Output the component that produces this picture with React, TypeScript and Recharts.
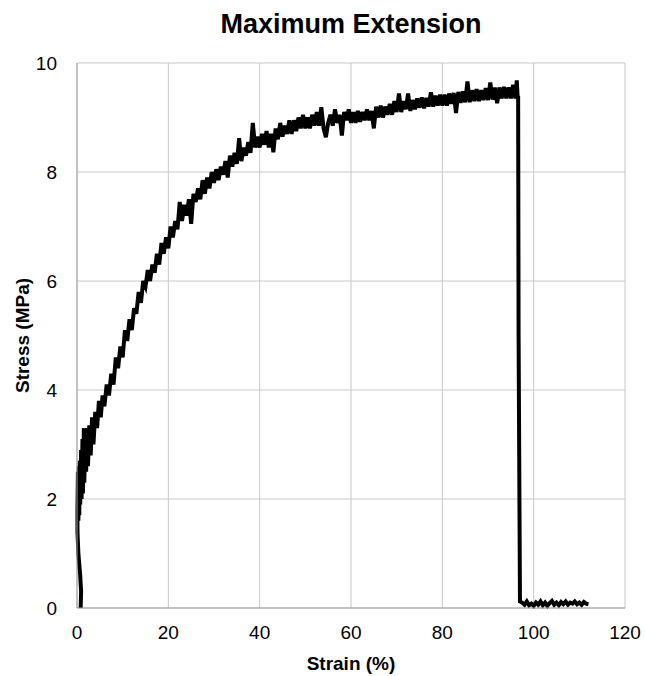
import React from 'react';
import { CartesianGrid, Line, LineChart, XAxis, YAxis, Label } from 'recharts';

const strain = [
  0.8, 0.9, 0.7, 0.3, 0.1, 0.1, 0.2, 0.3, 0.4, 0.5, 0.6, 0.7, 0.9, 1.0, 1.2, 1.3, 1.5, 1.6, 1.8, 2.0,
  2.2, 2.4, 2.7, 3.0, 3.3, 3.6, 4.0, 4.4, 4.8, 5.2, 5.6, 6.0, 6.5, 7.0, 7.5, 8.0, 8.5, 9.0, 9.5, 10.0,
  10.5, 11.0, 11.5, 12.0, 12.5, 13.0, 13.5, 14.0, 14.5, 15.0, 15.5, 16.0, 16.5, 17.0, 17.5, 18.0, 18.5, 19.0, 19.5, 20.0,
  20.5, 21.0, 21.5, 22.0, 22.5, 23.0, 23.5, 24.0, 24.5, 25.0, 25.5, 26.0, 26.5, 27.0, 27.5, 28.0, 28.5, 29.0, 29.5, 30.0,
  30.5, 31.0, 31.5, 32.0, 32.5, 33.0, 33.5, 34.0, 34.5, 35.0, 35.5, 36.0, 36.5, 37.0, 37.5, 38.0, 38.5, 39.0, 39.5, 40.0,
  40.5, 41.0, 41.5, 42.0, 42.5, 43.0, 43.5, 44.0, 44.5, 45.0, 45.5, 46.0, 46.5, 47.0, 47.5, 48.0, 48.5, 49.0, 49.5, 50.0,
  50.5, 51.0, 51.5, 52.0, 52.5, 53.0, 53.5, 54.0, 54.5, 55.0, 55.5, 56.0, 56.5, 57.0, 57.5, 58.0, 58.5, 59.0, 59.5, 60.0,
  60.5, 61.0, 61.5, 62.0, 62.5, 63.0, 63.5, 64.0, 64.5, 65.0, 65.5, 66.0, 66.5, 67.0, 67.5, 68.0, 68.5, 69.0, 69.5, 70.0,
  70.5, 71.0, 71.5, 72.0, 72.5, 73.0, 73.5, 74.0, 74.5, 75.0, 75.5, 76.0, 76.5, 77.0, 77.5, 78.0, 78.5, 79.0, 79.5, 80.0,
  80.5, 81.0, 81.5, 82.0, 82.5, 83.0, 83.5, 84.0, 84.5, 85.0, 85.5, 86.0, 86.5, 87.0, 87.5, 88.0, 88.5, 89.0, 89.5, 90.0,
  90.5, 91.0, 91.5, 92.0, 92.5, 93.0, 93.5, 94.0, 94.5, 95.0, 95.5, 96.0, 96.3, 96.5, 96.6, 96.7, 97.0, 97.5, 98.0, 98.5,
  99.0, 99.5, 100.0, 100.5, 101.0, 101.5, 102.0, 102.5, 103.0, 103.5, 104.0, 104.5, 105.0, 105.5, 106.0, 106.5, 107.0, 107.5, 108.0, 108.5,
  109.0, 109.5, 110.0, 110.5, 111.0, 111.5, 112.0,
];

// stress (MPa) at each strain value above
const stress = [
  0.0, 0.3, 0.6, 1.0, 1.4, 1.8, 2.5, 1.6, 2.6, 1.7, 2.7, 1.9, 2.9, 2.0, 3.1, 2.1, 3.3, 2.3, 3.2, 2.5,
  3.3, 2.6, 3.35, 2.8, 3.5, 3.0, 3.6, 3.3, 3.8, 3.5, 3.9, 3.7, 4.1, 3.9, 4.3, 4.1, 4.6, 4.4, 4.8, 4.6,
  5.1, 4.9, 5.3, 5.1, 5.5, 5.4, 5.8, 5.6, 6.0, 5.9, 6.2, 6.0, 6.3, 6.15, 6.5, 6.3, 6.7, 6.5, 6.8, 6.6,
  7.0, 6.8, 7.1, 6.95, 7.45, 7.1, 7.4, 7.2, 7.5, 7.05, 7.6, 7.45, 7.7, 7.5, 7.85, 7.6, 7.9, 7.7, 8.0, 7.8,
  8.05, 7.85, 8.1, 7.95, 8.2, 7.9, 8.3, 8.1, 8.35, 8.15, 8.62, 8.2, 8.45, 8.3, 8.55, 8.35, 8.9, 8.45, 8.65, 8.45,
  8.7, 8.5, 8.75, 8.45, 8.7, 8.36, 8.8, 8.6, 8.9, 8.65, 8.85, 8.7, 8.95, 8.7, 8.95, 8.75, 9.0, 8.8, 9.05, 8.8,
  9.0, 8.8, 9.05, 8.85, 9.1, 8.85, 9.19, 8.8, 8.64, 8.9, 9.05, 8.85, 9.15, 8.9, 9.05, 8.67, 9.1, 8.95, 9.15, 8.9,
  9.1, 8.9, 9.12, 8.92, 9.1, 8.95, 9.15, 8.95, 9.12, 8.8, 9.2, 9.0, 9.22, 9.0, 9.2, 9.05, 9.25, 9.05, 9.3, 9.1,
  9.44, 9.1, 9.3, 9.15, 9.44, 9.12, 9.32, 9.15, 9.35, 9.18, 9.37, 9.17, 9.36, 9.2, 9.46, 9.2, 9.4, 9.22, 9.42, 9.22,
  9.42, 9.22, 9.44, 9.25, 9.45, 9.08, 9.47, 9.27, 9.48, 9.28, 9.66, 9.28, 9.5, 9.3, 9.52, 9.3, 9.5, 9.32, 9.54, 9.32,
  9.64, 9.33, 9.55, 9.26, 9.55, 9.35, 9.56, 9.35, 9.55, 9.35, 9.6, 9.35, 9.68, 9.35, 9.4, 5.0, 0.12, 0.1, 0.06, 0.12,
  0.05, 0.08, 0.04, 0.1, 0.06, 0.12, 0.05, 0.1, 0.04, 0.09, 0.13, 0.06, 0.1, 0.05, 0.11, 0.07, 0.12, 0.06, 0.1, 0.08,
  0.12, 0.07, 0.1, 0.06, 0.11, 0.08, 0.07,
];

const xTicks = [0, 20, 40, 60, 80, 100, 120];
const yTicks = [0, 2, 4, 6, 8, 10];

const data = strain.map((s, i) => ({ strain: s, stress: stress[i] }));

const font = '"Liberation Sans", Arial, sans-serif';

export default function App() {
  return (
    <div style={{ position: 'absolute', left: 0, top: 0, width: 645, height: 676, background: '#fff', fontFamily: font }}>
      <div
        style={{
          position: 'absolute',
          top: 9,
          left: 0,
          width: 702,
          textAlign: 'center',
          fontSize: 27,
          fontWeight: 'bold',
          color: '#000',
        }}
      >
        Maximum Extension
      </div>
      <LineChart width={645} height={676} data={data} margin={{ top: 63, right: 20, bottom: 0, left: 0 }}>
        <CartesianGrid stroke="#c8c8c8" strokeWidth={1} />
        <XAxis
          type="number"
          dataKey="strain"
          domain={[0, 120]}
          ticks={xTicks}
          height={68}
          tickLine={false}
          tickMargin={12}
          stroke="#a0a0a0"
          tick={{ fill: '#000', fontSize: 19, fontFamily: font }}
        >
          <Label
            value="Strain (%)"
            position="insideBottom"
            offset={6}
            style={{ fontSize: 19, fontWeight: 'bold', fill: '#000', fontFamily: font }}
          />
        </XAxis>
        <YAxis
          type="number"
          domain={[0, 10]}
          ticks={yTicks}
          width={77}
          tickLine={false}
          tickMargin={14}
          stroke="#a0a0a0"
          tick={{ fill: '#000', fontSize: 19, fontFamily: font }}
        >
          <Label
            value="Stress (MPa)"
            angle={-90}
            position="insideLeft"
            offset={22}
            style={{ fontSize: 19, fontWeight: 'bold', fill: '#000', fontFamily: font, textAnchor: 'middle' }}
          />
        </YAxis>
        <Line
          type="linear"
          dataKey="stress"
          stroke="#000"
          strokeWidth={4}
          strokeLinejoin="miter"
          dot={false}
          isAnimationActive={false}
        />
      </LineChart>
    </div>
  );
}
